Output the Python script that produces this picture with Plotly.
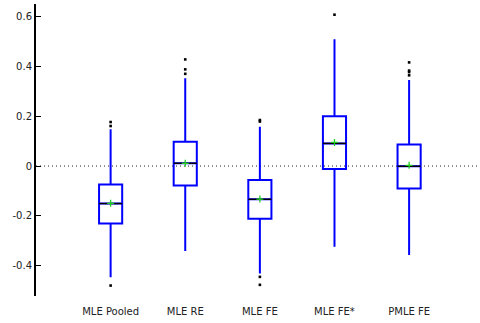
import plotly.graph_objects as go

# Estimator names shown along the x axis
estimators = ["MLE Pooled", "MLE RE", "MLE FE", "MLE FE*", "PMLE FE"]

# Box statistics per estimator
q1 = [-0.231, -0.078, -0.212, -0.012, -0.090]
median = [-0.151, 0.011, -0.134, 0.091, -0.001]
q3 = [-0.074, 0.098, -0.056, 0.200, 0.087]
lower_whisker = [-0.448, -0.342, -0.432, -0.325, -0.358]
upper_whisker = [0.148, 0.353, 0.158, 0.510, 0.346]
mean = [-0.150, 0.011, -0.133, 0.095, 0.003]

# Points outside the whiskers
outliers = [
    [0.177, 0.161, -0.481],
    [0.429, 0.389, 0.371],
    [0.185, 0.179, -0.446, -0.478],
    [0.609],
    [0.417, 0.384, 0.378, 0.365],
]

y_ticks = [0.6, 0.4, 0.2, 0, -0.2, -0.4]
y_tick_text = ["0.6", "0.4", "0.2", "0", "-0.2", "-0.4"]

pos = list(range(len(estimators)))
box_w = 0.31

fig = go.Figure()

fig.add_trace(go.Box(
    x=pos, q1=q1, median=median, q3=q3,
    lowerfence=lower_whisker, upperfence=upper_whisker,
    width=box_w, fillcolor="rgba(255,255,255,0)",
    line=dict(color="#0000ff", width=2), whiskerwidth=0,
    boxpoints=False, hoverinfo="skip", showlegend=False,
))

# Black median bars drawn over the boxes
mx, my = [], []
for p, m in zip(pos, median):
    mx += [p - box_w / 2, p + box_w / 2, None]
    my += [m, m, None]
fig.add_trace(go.Scatter(x=mx, y=my, mode="lines",
                         line=dict(color="black", width=1.4),
                         showlegend=False, hoverinfo="skip"))

# Green crosses for the means
fig.add_trace(go.Scatter(x=pos, y=mean, mode="markers",
                         marker=dict(symbol="cross-thin", size=5,
                                     line=dict(color="#22cc22", width=1.3)),
                         showlegend=False, hoverinfo="skip"))

# Outlier dots
ox, oy = [], []
for p, vals in zip(pos, outliers):
    for v in vals:
        ox.append(p)
        oy.append(v)
fig.add_trace(go.Scatter(x=ox, y=oy, mode="markers",
                         marker=dict(symbol="square", size=2.6, color="black"),
                         showlegend=False, hoverinfo="skip"))

# Dotted reference line at zero
fig.add_shape(type="line", xref="paper", x0=0, x1=1, yref="y", y0=0, y1=0,
              line=dict(color="#222222", width=1, dash="1px,3px"), layer="below")

fig.update_layout(
    width=480, height=323,
    margin=dict(l=36, r=0, t=4, b=27),
    paper_bgcolor="white", plot_bgcolor="white",
    font=dict(family="DejaVu Sans", size=10, color="#222222"),
    xaxis=dict(range=[-1, 4.95], tickvals=pos, ticktext=estimators,
               showgrid=False, zeroline=False, showline=False, ticks="",
               ticklabelstandoff=8),
    yaxis=dict(range=[-0.523, 0.652], tickvals=y_ticks, ticktext=y_tick_text,
               showgrid=False, zeroline=False, showline=True,
               linecolor="black", linewidth=2, ticks="inside",
               ticklen=5, tickwidth=1, tickcolor="black"),
)

fig.write_html("out.html")
